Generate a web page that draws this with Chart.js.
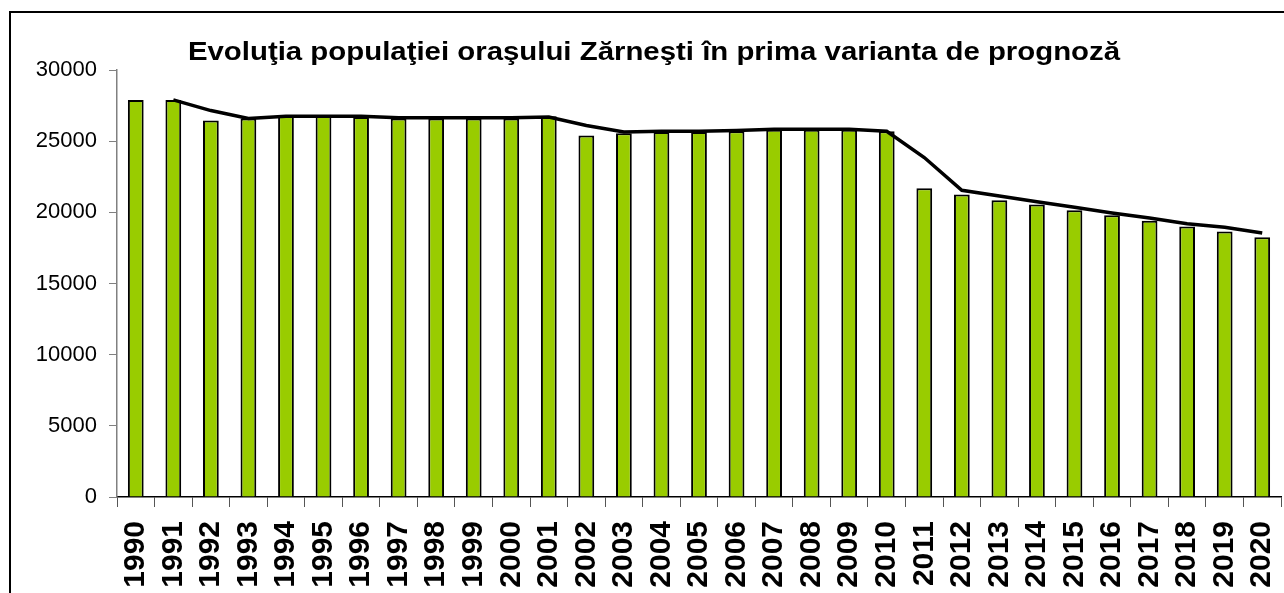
<!DOCTYPE html>
<html>
<head>
<meta charset="utf-8">
<script src="https://cdn.jsdelivr.net/npm/chart.js@4.4.0/dist/chart.umd.min.js"></script>
<style>
    html, body { margin: 0; padding: 0; background: #fff; overflow: hidden; }
    #wrap { position: relative; width: 1284px; height: 593px; }
    #frame { position: absolute; left: 9px; top: 11px; width: 1300px; height: 620px; border: 2px solid #000; box-sizing: border-box; }
    canvas { position: absolute; left: 0; top: 0; }
</style>
</head>
<body>
<div id="wrap">
    <div id="frame"></div>
    <canvas id="chart" width="1284" height="593"></canvas>
</div>
<script>
// chart data
const years = ['1990', '1991', '1992', '1993', '1994', '1995', '1996', '1997', '1998', '1999',
    '2000', '2001', '2002', '2003', '2004', '2005', '2006', '2007', '2008', '2009',
    '2010', '2011', '2012', '2013', '2014', '2015', '2016', '2017', '2018', '2019', '2020'];
const population = [27900, 27900, 26450, 26600, 26800, 26800, 26700, 26600, 26600, 26600,
    26600, 26750, 25400, 25550, 25650, 25650, 25700, 25800, 25800, 25800,
    25700, 21700, 21250, 20850, 20550, 20150, 19800, 19400, 19000, 18650, 18250];
const trend = [null, 27900, 27150, 26600, 26750, 26750, 26750, 26650, 26650, 26650,
    26650, 26700, 26100, 25650, 25700, 25700, 25750, 25830, 25830, 25830,
    25700, 23850, 21550, 21150, 20750, 20350, 19950, 19600, 19200, 18950, 18550];
const yTicks = [0, 5000, 10000, 15000, 20000, 25000, 30000];
const titleText = 'Evoluţia populaţiei oraşului Zărneşti în prima varianta de prognoză';

// title drawn at a fixed centre, a bit wide like the original
const titlePlugin = {
    id: 'titleAt',
    afterDraw(chart) {
        const ctx = chart.ctx;
        ctx.save();
        ctx.font = 'bold 26px "Liberation Sans", Arial, sans-serif';
        ctx.fillStyle = '#000';
        ctx.textAlign = 'center';
        ctx.textBaseline = 'alphabetic';
        ctx.translate(654, 60);
        ctx.scale(1.13, 1);
        ctx.fillText(titleText, 0, 0);
        ctx.restore();
    }
};

const ctx = document.getElementById('chart').getContext('2d');
new Chart(ctx, {
    data: {
        labels: years,
        datasets: [
            {
                type: 'line',
                data: trend,
                borderColor: '#000',
                borderWidth: 3.5,
                pointRadius: 0,
                tension: 0,
                fill: false,
                order: 0
            },
            {
                type: 'bar',
                data: population,
                backgroundColor: '#99CC00',
                borderColor: '#000',
                borderWidth: 2,
                barPercentage: 0.42,
                categoryPercentage: 1.0,
                order: 1
            }
        ]
    },
    options: {
        responsive: false,
        animation: false,
        layout: { padding: { top: 70, right: 3, left: 0, bottom: 0 } },
        plugins: {
            legend: { display: false },
            title: { display: false },
            tooltip: { enabled: false }
        },
        scales: {
            x: {
                offset: true,
                grid: { offset: true, drawOnChartArea: false, tickLength: 10, color: '#555', lineWidth: 1 },
                border: { color: '#000', width: 1.5 },
                ticks: {
                    autoSkip: false,
                    minRotation: 90,
                    maxRotation: 90,
                    padding: 14,
                    color: '#000',
                    font: { family: '"Liberation Sans", Arial, sans-serif', size: 30, weight: 'bold' }
                },
                afterFit(scale) {
                    scale.height = 96;
                    scale.paddingLeft = 0;
                    scale.paddingRight = 0;
                }
            },
            y: {
                min: 0,
                max: 30000,
                grid: { drawOnChartArea: false, tickLength: 8, color: '#808080' },
                border: { color: '#808080', width: 1.5 },
                afterBuildTicks(scale) { scale.ticks = yTicks.map(v => ({ value: v })); },
                ticks: {
                    padding: 12,
                    color: '#000',
                    font: { family: '"Liberation Sans", Arial, sans-serif', size: 22 },
                    callback: v => String(v)
                },
                afterFit(scale) { scale.width = 117; }
            }
        }
    },
    plugins: [titlePlugin]
});
</script>
</body>
</html>
